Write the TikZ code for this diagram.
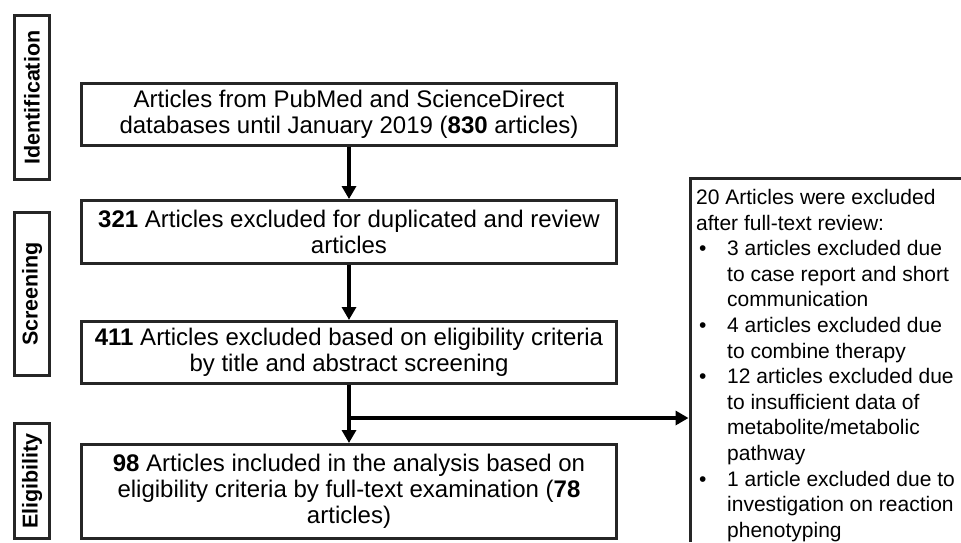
\documentclass[tikz,border=0pt]{standalone}
\usepackage{fontspec}
\setmainfont{Liberation Sans}
\usetikzlibrary{arrows.meta,calc}
\tikzset{
  mainbox/.style={draw=black!85, line width=3pt, minimum width=535pt, inner sep=0pt,
    align=center, font=\fontsize{24}{26}\selectfont},
  stage/.style={draw=black!85, line width=3pt, rotate=90, minimum height=35pt, inner sep=0pt,
    font=\bfseries\fontsize{21.5}{25}\selectfont},
  flow/.style={line width=4pt, -{Triangle[width=14pt,length=13pt]}},
  border/.style={draw=black!85, line width=3pt},
}
\begin{document}
\begin{tikzpicture}[x=1pt,y=-1pt]
\useasboundingbox (0,0) rectangle (961,542);
\fill[white] (0,0) rectangle (961,542);
% stage labels
\node[stage, minimum width=164pt] (ident) at (32,97.5) {Identification};
\node[stage, minimum width=163pt] (screen) at (32,294) {Screening};
\node[stage, minimum width=115pt] (elig) at (32,481) {Eligibility};
% main boxes
\node[mainbox, minimum height=62pt] (b1) at (349,114.5)
  {Articles from PubMed and ScienceDirect\\databases until January 2019 (\textbf{830} articles)};
\node[mainbox, minimum height=63pt] (b2) at (349,232)
  {\textbf{321} Articles excluded for duplicated and review\\articles};
\node[mainbox, minimum height=62pt] (b3) at (349,352.5)
  {\textbf{411} Articles excluded based on eligibility criteria\\by title and abstract screening};
\node[mainbox, minimum height=94pt] (b4) at (349,491.5)
  {\textbf{98} Articles included in the analysis based on\\eligibility criteria by full-text examination (\textbf{78}\\articles)};
% exclusion box (runs past the right and bottom edges)
\node[anchor=north west, minimum width=271pt, minimum height=364pt, inner sep=0pt, outer sep=1.5pt]
  (excl) at (688.5,176.5) {};
\draw[border, line cap=butt] (690,542) -- (690,178) -- (961,178);
\node[anchor=north west, align=left, inner sep=0pt, font=\fontsize{21}{25.6}\selectfont] (excltext) at (696,189)
  {20 Articles were excluded\\
   after full-text review:\\
   \makebox[31pt][l]{\hspace{3pt}\textbullet}3 articles excluded due\\
   \hspace*{31pt}to case report and short\\
   \hspace*{31pt}communication\\
   \makebox[31pt][l]{\hspace{3pt}\textbullet}4 articles excluded due\\
   \hspace*{31pt}to combine therapy\\
   \makebox[31pt][l]{\hspace{3pt}\textbullet}12 articles excluded due\\
   \hspace*{31pt}to insufficient data of\\
   \hspace*{31pt}metabolite/metabolic\\
   \hspace*{31pt}pathway\\
   \makebox[31pt][l]{\hspace{3pt}\textbullet}1 article excluded due to\\
   \hspace*{31pt}investigation on reaction\\
   \hspace*{31pt}phenotyping};
% connectors
\draw[flow] (b1.south) -- (b2.north);
\draw[flow] (b2.south) -- (b3.north);
\draw[flow] (b3.south) -- (b4.north);
\coordinate (split) at (b3.south |- 0,418);
\draw[flow] (split) -- (split -| excl.west);
\end{tikzpicture}
\end{document}
